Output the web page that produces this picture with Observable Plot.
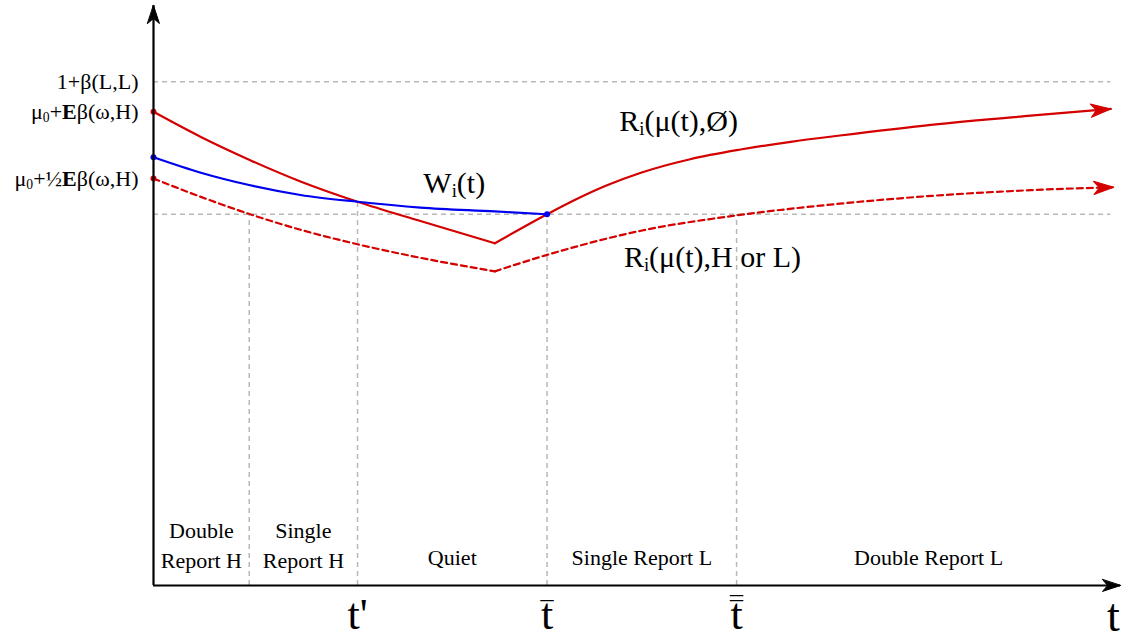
<!DOCTYPE html>
<html><head><meta charset="utf-8">
<script src="https://cdn.jsdelivr.net/npm/d3@7"></script>
<script src="https://cdn.jsdelivr.net/npm/@observablehq/plot@0.6"></script>
<style>body{margin:0;background:#fff} svg{display:block}</style>
</head><body><div id="chart"></div>
<script>
// ---- data (abstract units) ----
const xMax = 10, yMax = 6;

const redLeftT  = [0, 0.49, 1.00, 1.52, 2.11, 2.76, 3.53];
const redLeftV  = [4.90, 4.64, 4.40, 4.18, 3.97, 3.77, 3.54];
const redRightT = [3.53, 4.07, 4.34, 4.69, 5.04, 5.55, 6.07, 6.59, 7.10, 8.04, 9.07, 9.90];
const redRightV = [3.54, 3.84, 3.98, 4.14, 4.27, 4.41, 4.51, 4.59, 4.655, 4.765, 4.86, 4.93];

const blueT = [0, 0.49, 1.00, 1.52, 2.11, 2.76, 3.53, 4.07];
const blueV = [4.43, 4.27, 4.14, 4.04, 3.97, 3.91, 3.87, 3.84];

const dashLeftT  = [0, 0.49, 1.00, 1.52, 2.11, 2.76, 3.53];
const dashLeftV  = [4.21, 4.02, 3.84, 3.68, 3.53, 3.39, 3.25];
const dashRightT = [3.53, 4.07, 5.04, 6.04, 7.10, 8.04, 9.07, 9.93];
const dashRightV = [3.25, 3.42, 3.67, 3.83, 3.95, 4.03, 4.09, 4.12];

const bounds = [0, 0.99, 2.11, 4.07, 6.03, 10];
const vTops  = [3.84, 3.97, 3.84, 3.84];           // top of the vertical guides at bounds[1..4]
const regionLabels = ["Double\nReport H", "Single\nReport H", "Quiet", "Single Report L", "Double Report L"];

const levelTop = 5.21;                              // 1+β(L,L)
const yLabels = ["1+β(L,L)", "μ_0+*E*β(ω,H)", "μ_0+½*E*β(ω,H)"];
const yLabelV = [levelTop, redLeftV[0], dashLeftV[0]];

const tickT = [2.11, 4.07, 6.03];
const tickLabels = ["t'", "t", "t"];
const tickBars = [0, 1, 2];

const curveLabels = ["W_i(t)", "R_i(μ(t),Ø)", "R_i(μ(t),H or L)"];
const curveLabelT = [3.11, 5.43, 5.78];
const curveLabelV = [4.16, 4.80, 3.39];

// ---- tables ----
const RED = "#d40000", BLUE = "#0000f0", GRAY = "#b8b8b8";
const pts = (T, V, seg) => T.map((t, i) => ({t, v: V[i], seg}));
const redSolid = [...pts(redLeftT, redLeftV, "a"), ...pts(redRightT, redRightV, "b")];
const redDash  = [...pts(dashLeftT, dashLeftV, "a"), ...pts(dashRightT, dashRightV, "b")];
const blue = pts(blueT, blueV, "a");
const regions = regionLabels.map((s, i) => ({t: (bounds[i] + bounds[i + 1]) / 2, s, multi: s.includes("\n")}));
const guides = vTops.map((top, i) => ({t: bounds[i + 1], top}));
const ticks = tickT.map((t, i) => ({t, s: tickLabels[i], bars: tickBars[i]}));
const angle = (T, V) => { const n = T.length; return 90 - Math.atan2(V[n-1] - V[n-2], T[n-1] - T[n-2]) * 180 / Math.PI; };
const curveHeads = [
  {t: redRightT.at(-1), v: redRightV.at(-1), r: angle(redRightT, redRightV)},
  {t: dashRightT.at(-1), v: dashRightV.at(-1), r: angle(dashRightT, dashRightV)}
];
const axisHeads = [{t: xMax, v: 0, r: 90}, {t: 0, v: yMax, r: 0}];
const dots = [
  {t: 0, v: redLeftV[0], c: RED}, {t: 0, v: blueV[0], c: BLUE},
  {t: 0, v: dashLeftV[0], c: RED}, {t: blueT.at(-1), v: blueV.at(-1), c: BLUE}
];

const stealth = {
  draw(ctx, l) {
    const w = l * 0.33;
    ctx.moveTo(0, -l);
    ctx.lineTo(w, 0);
    ctx.lineTo(0, -l * 0.28);
    ctx.lineTo(-w, 0);
    ctx.closePath();
  }
};

const FONT = "Liberation Serif, Times New Roman, serif";

const chart = Plot.plot({
  width: 1133, height: 636,
  marginLeft: 153, marginRight: 13, marginTop: 5, marginBottom: 51,
  x: {domain: [0, xMax], axis: null},
  y: {domain: [0, yMax], axis: null},
  style: {fontFamily: FONT, background: "#fff", color: "#000"},
  marks: [
    // guides
    Plot.ruleY([levelTop, blueV.at(-1)], {x1: 0, x2: 9.9, stroke: GRAY, strokeWidth: 1.5, strokeDasharray: "5,4"}),
    Plot.ruleX(guides, {x: "t", y1: 0, y2: "top", stroke: GRAY, strokeWidth: 1.5, strokeDasharray: "5,4"}),
    // curves
    Plot.line(redDash, {x: "t", y: "v", z: "seg", stroke: RED, strokeWidth: 2.2, strokeDasharray: "6,4", curve: "monotone-x"}),
    Plot.line(redSolid, {x: "t", y: "v", z: "seg", stroke: RED, strokeWidth: 2.2, curve: "monotone-x"}),
    Plot.line(blue, {x: "t", y: "v", stroke: BLUE, strokeWidth: 2.2, curve: "monotone-x"}),
    Plot.vector(curveHeads, {x: "t", y: "v", rotate: "r", length: 20, anchor: "end", shape: stealth, fill: RED, stroke: RED, strokeWidth: 1}),
    Plot.dot(dots, {x: "t", y: "v", r: 3, fill: "c", stroke: null}),
    // axes
    Plot.ruleY([0], {x1: 0, x2: xMax, stroke: "#000", strokeWidth: 2.2}),
    Plot.ruleX([0], {y1: 0, y2: yMax, stroke: "#000", strokeWidth: 2.2}),
    Plot.vector(axisHeads, {x: "t", y: "v", rotate: "r", length: 18, anchor: "end", shape: stealth, fill: "#000", stroke: "#000", strokeWidth: 1}),
    // text
    Plot.text(yLabels, {x: 0, y: (d, i) => yLabelV[i], text: d => d, textAnchor: "end", dx: -15, fontSize: 22}),
    Plot.text(regions.filter(d => d.multi), {x: "t", y: 0.435, text: "s", fontSize: 22, lineHeight: 1.36}),
    Plot.text(regions.filter(d => !d.multi), {x: "t", y: 0.28, text: "s", fontSize: 22}),
    Plot.text(ticks, {x: "t", y: 0, text: "s", fontSize: 44, lineAnchor: "bottom", dy: 43}),
    Plot.text(ticks.filter(d => d.bars >= 1), {x: "t", y: 0, text: () => "¯", fontSize: 26, lineAnchor: "bottom", dy: 33}),
    Plot.text(ticks.filter(d => d.bars >= 2), {x: "t", y: 0, text: () => "¯", fontSize: 26, lineAnchor: "bottom", dy: 28}),
    Plot.text(["t"], {x: xMax, y: 0, text: d => d, fontSize: 46, lineAnchor: "bottom", dy: 45, dx: -7}),
    Plot.text(curveLabels, {x: (d, i) => curveLabelT[i], y: (d, i) => curveLabelV[i], text: d => d, fontSize: 30})
  ]
});

// rich text: _x -> subscript, *X* -> bold
d3.select(chart).selectAll("text").each(function () {
  const s = this.textContent;
  if (!/[_*]/.test(s)) return;
  this.innerHTML = s
    .replace(/\*([^*]+)\*/g, '<tspan font-weight="bold">$1</tspan>')
    .replace(/_(.)/g, '<tspan baseline-shift="-0.2em" font-size="62%">$1</tspan>');
});

document.getElementById("chart").appendChild(chart);
</script>
</body></html>
